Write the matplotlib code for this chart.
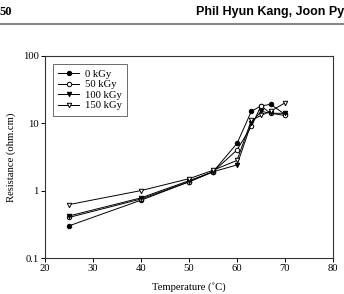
import matplotlib
matplotlib.use("Agg")
import matplotlib.pyplot as plt
from matplotlib.ticker import FixedLocator, NullLocator, FixedFormatter

temps = [25, 40, 50, 55, 60, 63, 65, 67, 70]
r_0 = [0.30, 0.72, 1.35, 1.90, 5.0, 15.0, 18.0, 19.0, 13.5]
r_50 = [0.40, 0.75, 1.35, 1.90, 4.0, 9.0, 18.0, 14.0, 13.0]
r_100 = [0.42, 0.78, 1.40, 1.90, 2.4, 10.0, 15.0, 14.0, 14.0]
r_150 = [0.62, 1.00, 1.50, 2.00, 2.8, 11.0, 13.0, 15.0, 20.0]
labels = ["0 kGy", "50 kGy", "100 kGy", "150 kGy"]
yticks = [0.1, 1, 10, 100]
ytick_labels = ["0.1", "1", "10", "100"]
xticks = [20, 30, 40, 50, 60, 70, 80]

plt.rcParams['font.family'] = ['Liberation Serif', 'DejaVu Serif']

fig = plt.figure(figsize=(3.44, 2.94), dpi=100)
ax = fig.add_axes([0.1308, 0.1224, 0.968 - 0.1308, 0.8105 - 0.1224])

styles = [
    dict(marker='o', mfc='black', mec='black'),
    dict(marker='o', mfc='white', mec='black'),
    dict(marker='v', mfc='black', mec='black'),
    dict(marker='v', mfc='white', mec='black'),
]
for ys, lab, st in zip([r_0, r_50, r_100, r_150], labels, styles):
    ax.plot(temps, ys, color='black', lw=0.7, ms=3.2, mew=0.7, label=lab, **st)

ax.set_yscale('log')
ax.set_ylim(0.1, 100)
ax.set_xlim(20, 80)
ax.yaxis.set_major_locator(FixedLocator(yticks))
ax.yaxis.set_major_formatter(FixedFormatter(ytick_labels))
ax.yaxis.set_minor_locator(NullLocator())
ax.set_xticks(xticks)
ax.tick_params(axis='both', labelsize=7.7, length=3, width=0.7, direction='out', pad=1.5)
for s in ax.spines.values():
    s.set_linewidth(0.8)
    s.set_color('#333333')

ax.set_xlabel("Temperature (˚C)", fontsize=7.7, labelpad=6)
ax.set_ylabel("Resistance (ohm.cm)", fontsize=7.7, labelpad=5)

leg = ax.legend(loc='upper left', fontsize=7.7, frameon=True, fancybox=False,
                edgecolor='#444444', handlelength=2.0, handletextpad=0.5,
                labelspacing=0.1, borderpad=0.5, bbox_to_anchor=(0.015, 0.975),
                borderaxespad=0.3)
leg.get_frame().set_linewidth(0.7)

fig.text(0.0, 0.958, "50", fontsize=9, fontweight='bold', ha='left', va='center')
fig.text(1.0, 0.958, "Phil Hyun Kang, Joon Py", fontsize=9, fontweight='bold',
         ha='right', va='center', family=['Liberation Sans', 'DejaVu Sans'])
fig.add_artist(plt.Line2D([0, 1], [0.917, 0.917], color='#888888', lw=1.5,
                          transform=fig.transFigure))

fig.savefig("out.png", dpi=100)
